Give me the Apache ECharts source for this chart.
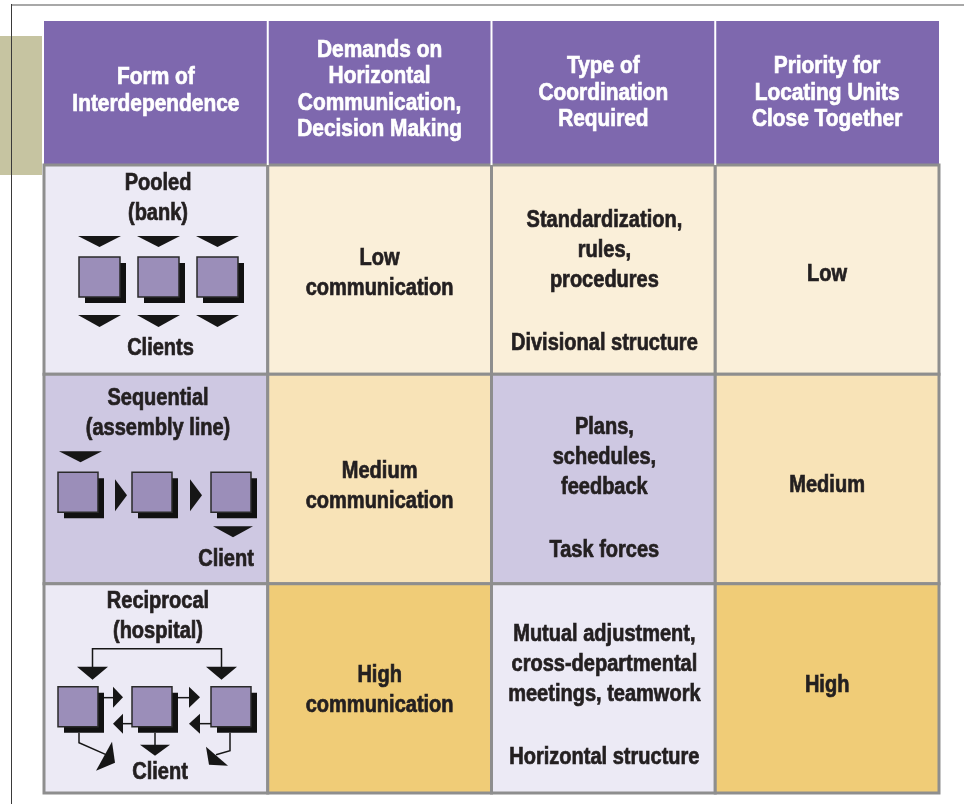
<!DOCTYPE html>
<html>
<head>
<meta charset="utf-8">
<script src="https://cdn.jsdelivr.net/npm/echarts@6/dist/echarts.min.js"></script>
<style>
html,body{margin:0;padding:0;background:#fff;}
#chart{width:964px;height:804px;}
</style>
</head>
<body>
<div id="chart"></div>
<script>
// ---- data ----
var columns = ['Form of\nInterdependence', 'Demands on\nHorizontal\nCommunication,\nDecision Making', 'Type of\nCoordination\nRequired', 'Priority for\nLocating Units\nClose Together'];
var forms = ['Pooled\n(bank)', 'Sequential\n(assembly line)', 'Reciprocal\n(hospital)'];
var clientLabels = ['Clients', 'Client', 'Client'];
var communication = ['Low\ncommunication', 'Medium\ncommunication', 'High\ncommunication'];
var coordination = ['Standardization,\nrules,\nprocedures', 'Plans,\nschedules,\nfeedback', 'Mutual adjustment,\ncross-departmental\nmeetings, teamwork'];
var structures = ['Divisional structure', 'Task forces', 'Horizontal structure'];
var priority = ['Low', 'Medium', 'High'];

// ---- styles ----
var FONT = '"Liberation Sans", Arial, sans-serif';
var SQUEEZE = 0.87;
var INK = '#231F20';
var PURPLE = '#7E68AE';
var BORDER = '#8E8E8E';
var fills = [
  ['#ECEAF5', '#CEC8E2', '#ECEAF5'],
  ['#FAEFD9', '#F8E3B7', '#F0CC77'],
  ['#FAEFD9', '#CEC8E2', '#ECEAF5'],
  ['#FAEFD9', '#F8E3B7', '#F0CC77']
];

function txt(x, y, s, opt) {
  opt = opt || {};
  var col = opt.fill || INK;
  return {
    type: 'text', x: x, y: y, z2: 10, scaleX: SQUEEZE, scaleY: 1,
    style: {
      text: s, fill: col, stroke: col, lineWidth: 0.7, fontSize: opt.size || 23, fontWeight: 'bold',
      fontFamily: FONT, align: opt.align || 'center', verticalAlign: 'middle',
      lineHeight: opt.lh || 30
    }
  };
}
function tri(x0, y0, pts) {
  return { type: 'polygon', z2: 6, shape: { points: pts.map(function (p) { return [x0 + p[0], y0 + p[1]]; }) }, style: { fill: '#161616' } };
}
function pline(x0, y0, pts) {
  return { type: 'polyline', z2: 5, shape: { points: pts.map(function (p) { return [x0 + p[0], y0 + p[1]]; }) }, style: { stroke: '#161616', lineWidth: 1.5, fill: null } };
}
function box(x0, y0, x, y, w, h) {
  return [
    { type: 'rect', z2: 4, shape: { x: x0 + x + 6, y: y0 + y + 6, width: w, height: h }, style: { fill: '#111' } },
    { type: 'rect', z2: 5, shape: { x: x0 + x, y: y0 + y, width: w, height: h }, style: { fill: '#9B8EB9', stroke: '#2a2a2a', lineWidth: 1.5 } }
  ];
}

function icon(row, x0, y0) {
  var c = [];
  if (row === 0) {
    [35, 94, 153].forEach(function (sx) {
      var m = sx + 20.5;
      c = c.concat(box(x0, y0, sx, 92, 41, 40));
      c.push(tri(x0, y0, [[m - 21.5, 71], [m + 21.5, 71], [m, 82]]));
      c.push(tri(x0, y0, [[m - 21.5, 150], [m + 21.5, 150], [m, 162]]));
    });
  } else if (row === 1) {
    [14, 88, 167].forEach(function (sx) { c = c.concat(box(x0, y0, sx, 98, 40, 40)); });
    c.push(tri(x0, y0, [[15, 77], [58, 77], [36.5, 88]]));
    c.push(tri(x0, y0, [[71, 105], [71, 137], [83, 121]]));
    c.push(tri(x0, y0, [[146, 105], [146, 137], [158, 121]]));
    c.push(tri(x0, y0, [[169, 152], [209, 152], [189, 163]]));
  } else {
    [14, 88, 167].forEach(function (sx) { c = c.concat(box(x0, y0, sx, 103, 40, 40)); });
    c.push(pline(x0, y0, [[48.5, 84], [48.5, 65], [177.5, 65], [177.5, 84]]));
    c.push(tri(x0, y0, [[33, 83], [64, 83], [48.5, 96]]));
    c.push(tri(x0, y0, [[162, 83], [193, 83], [177.5, 96]]));
    // horizontal arrows
    c.push(pline(x0, y0, [[60, 114], [70, 114]]));
    c.push(tri(x0, y0, [[69, 103], [69, 124], [79, 113.5]]));
    c.push(tri(x0, y0, [[69, 140], [79, 130], [79, 150]]));
    c.push(pline(x0, y0, [[78, 140], [88, 140]]));
    c.push(pline(x0, y0, [[134, 114], [146, 114]]));
    c.push(tri(x0, y0, [[145, 103], [145, 124], [156, 113.5]]));
    c.push(tri(x0, y0, [[145, 140], [156, 130], [156, 150]]));
    c.push(pline(x0, y0, [[155, 140], [167, 140]]));
    // downward arrows
    c.push(pline(x0, y0, [[111, 149], [111, 162]]));
    c.push(tri(x0, y0, [[96, 161], [126, 161], [111, 172]]));
    c.push(pline(x0, y0, [[35, 149], [35, 159], [62, 171]]));
    c.push(tri(x0, y0, [[68, 158], [52, 187], [71, 179]]));
    c.push(pline(x0, y0, [[186, 149], [186, 167], [172, 171]]));
    c.push(tri(x0, y0, [[162, 163], [184, 182], [165, 181]]));
  }
  return c;
}

var headerData = columns.map(function (c, i) { return [i, 0]; });
var bodyData = [];
forms.forEach(function (f, r) { columns.forEach(function (c, i) { bodyData.push([i, r]); }); });

var chart = echarts.init(document.getElementById('chart'), null, { renderer: 'canvas' });
chart.setOption({
  animation: false,
  backgroundColor: '#fff',
  grid: [
    { left: 44, top: 21, width: 895, height: 144 },
    { left: 44, top: 165, width: 895, height: 628 }
  ],
  xAxis: [
    { type: 'category', gridIndex: 0, data: columns, show: false },
    { type: 'category', gridIndex: 1, data: columns, show: false }
  ],
  yAxis: [
    { type: 'category', gridIndex: 0, data: ['header'], show: false },
    { type: 'category', gridIndex: 1, data: forms, inverse: true, show: false }
  ],
  graphic: [
    { type: 'rect', z: 0, shape: { x: 0, y: 36, width: 42, height: 139 }, style: { fill: '#C6C4A1' } },
    { type: 'line', z: 1, shape: { x1: 11, y1: 5, x2: 964, y2: 5 }, style: { stroke: '#A8A8A8', lineWidth: 2 } },
    { type: 'line', z: 1, shape: { x1: 11.5, y1: 4, x2: 11.5, y2: 804 }, style: { stroke: '#3a3a3a', lineWidth: 1 } }
  ],
  series: [
    {
      type: 'custom', xAxisIndex: 0, yAxisIndex: 0, data: headerData,
      renderItem: function (params, api) {
        var i = api.value(0);
        var p = api.coord([i, 0]);
        var s = api.size([1, 1]);
        var x0 = p[0] - s[0] / 2, y0 = p[1] - s[1] / 2;
        var ch = [
          { type: 'rect', shape: { x: x0, y: y0, width: s[0], height: s[1] }, style: { fill: PURPLE } },
          txt(p[0], p[1] + [-2, -3, 0, 0][i], columns[i], { fill: '#FFFFFF', size: 24, lh: 26.5 })
        ];
        if (i > 0) ch.push({ type: 'line', z2: 8, shape: { x1: x0, y1: y0, x2: x0, y2: y0 + s[1] }, style: { stroke: '#FFFFFF', lineWidth: 2 } });
        return { type: 'group', children: ch };
      }
    },
    {
      type: 'custom', xAxisIndex: 1, yAxisIndex: 1, data: bodyData,
      renderItem: function (params, api) {
        var i = api.value(0), r = api.value(1);
        var p = api.coord([i, r]);
        var s = api.size([1, 1]);
        var x0 = p[0] - s[0] / 2, y0 = p[1] - s[1] / 2;
        var ch = [
          { type: 'rect', shape: { x: x0, y: y0, width: s[0], height: s[1] }, style: { fill: fills[i][r], stroke: BORDER, lineWidth: 3 } }
        ];
        if (i === 0) {
          ch.push(txt(x0 + 114, y0 + [34, 39, 33][r], forms[r]));
          var cl = [[116.5, 184], [182, 185], [116, 189]][r];
          ch.push(txt(x0 + cl[0], y0 + cl[1], clientLabels[r]));
          ch = ch.concat(icon(r, x0, y0));
        } else if (i === 1) {
          ch.push(txt(p[0], p[1] + [4, 8, 2][r], communication[r]));
        } else if (i === 2) {
          var d = [5, 3, 0][r];
          ch.push(txt(p[0] + 1, p[1] - 24 + d, coordination[r]));
          ch.push(txt(p[0] + 1, p[1] + 69 + d, structures[r]));
        } else {
          ch.push(txt(p[0], p[1] + [5, 7, -3][r], priority[r]));
        }
        return { type: 'group', children: ch };
      }
    }
  ]
});
</script>
</body>
</html>
